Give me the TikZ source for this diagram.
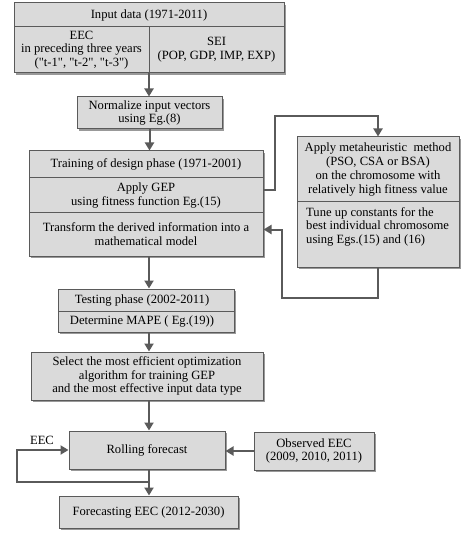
\documentclass[tikz,border=0pt]{standalone}
\usepackage{fontspec}
\setmainfont{Liberation Serif}
\newfontfamily\tfont{Liberation Serif}
\usetikzlibrary{arrows.meta,shadows,calc}
\definecolor{bf}{HTML}{DADADA}
\definecolor{lc}{HTML}{5A5A5A}
\definecolor{sc}{HTML}{999999}
\newcommand{\fs}{\tfont\fontsize{12.6}{13.8}\selectfont}
\tikzset{
  box/.style={draw=lc, fill=bf, line width=1pt, inner sep=0pt, align=center, font=\fs},
  shd/.style={drop shadow={shadow xshift=2pt, shadow yshift=-2pt, fill=sc, opacity=1}},
  conn/.style={draw=lc, line width=2pt, -{Triangle[length=8pt,width=9pt]}},
  plain/.style={font=\fs, inner sep=0pt, align=left},
}
% \mybox[opts]{name}{x1}{y1}{x2}{y2}{text}
\newcommand{\mybox}[7][]{%
  \node[box,#1,minimum width={(#5-#3)*1pt},minimum height={(#6-#4)*1pt}] (#2) at ({(#3+#5)/2},{(#4+#6)/2}) {#7};}
\begin{document}
\begin{tikzpicture}[x=1pt,y=-1pt]
\useasboundingbox (0,0) rectangle (474,534);
% Input data
\mybox[shd]{in}{14}{3}{284}{73}{}
\mybox{in1}{14}{3}{284}{27}{Input data (1971-2011)}
\mybox{in2}{14}{27}{149}{73}{EEC\\in preceding three years\\("t-1", "t-2", "t-3")}
\mybox{in3}{149}{27}{284}{73}{SEI\\(POP, GDP, IMP, EXP)}
% Normalize
\mybox[shd]{norm}{77}{97}{222}{129}{Normalize input vectors\\using Eg.(8)}
% Training
\mybox[shd]{tr}{29}{151}{263}{256}{}
\mybox{tr1}{29}{151}{263}{178}{Training of design phase (1971-2001)}
\mybox{tr2}{29}{178}{263}{213}{Apply GEP\\using fitness function Eg.(15)}
\mybox{tr3}{29}{213}{263}{256}{Transform the derived information into a\\mathematical model}
% Metaheuristic
\mybox[shd]{meta}{297}{137}{459}{267}{}
\mybox{m1}{297}{137}{459}{202}{Apply metaheuristic\ \ method\\(PSO, CSA or BSA)\\on the chromosome with\\relatively high fitness value}
\mybox{m2}{297}{202}{459}{267}{}
\node[plain,anchor=north west] (m2t) at (306,207) {Tune up constants for the\\best individual chromosome\\using Egs.(15) and (16)};
% Testing
\mybox[shd]{test}{58}{289}{234}{332}{}
\mybox{t1}{58}{289}{234}{311}{Testing phase (2002-2011)\hspace{8pt}}
\mybox{t2}{58}{311}{234}{332}{Determine MAPE ( Eg.(19))\hspace{8pt}}
% Select
\mybox[shd]{sel}{31}{352}{263}{400}{Select the most efficient optimization\\algorithm for training GEP\\and the most effective input data type}
% Rolling
\mybox[shd]{roll}{69}{431}{225}{469}{Rolling forecast}
\mybox[shd]{obs}{254}{432}{374}{470}{Observed EEC\\(2009, 2010, 2011)}
\mybox[shd]{fore}{59}{496}{238}{528}{Forecasting EEC (2012-2030)}
\node[font=\fs, inner sep=0pt] (eec) at (42,440) {EEC};
% coordinates
\coordinate (fb1) at (275,116);
\coordinate (fb2) at (282,298);
\coordinate (lp) at (17,482);
% connectors
\draw[conn] (in.south) -- (in.south |- norm.north);
\draw[conn] (norm.south) -- (norm.south |- tr.north);
\draw[conn] (tr.south -| in.south) -- (in.south |- test.north);
\draw[conn] (test.south -| in.south) -- (in.south |- sel.north);
\draw[conn] (sel.south -| in.south) -- (in.south |- roll.north);
\draw[conn] (roll.south -| in.south) -- (in.south |- fore.north);
\draw[conn] ([yshift=5pt]tr2.east) -| (fb1) -| (meta.north);
\draw[conn] (meta.south) |- (fb2) |- ([yshift=5pt]tr3.east);
\draw[conn] (obs.west) -- (obs.west -| roll.east);
\draw[conn] (lp -| in.south) -- (lp) |- (roll.west);
\end{tikzpicture}
\end{document}
